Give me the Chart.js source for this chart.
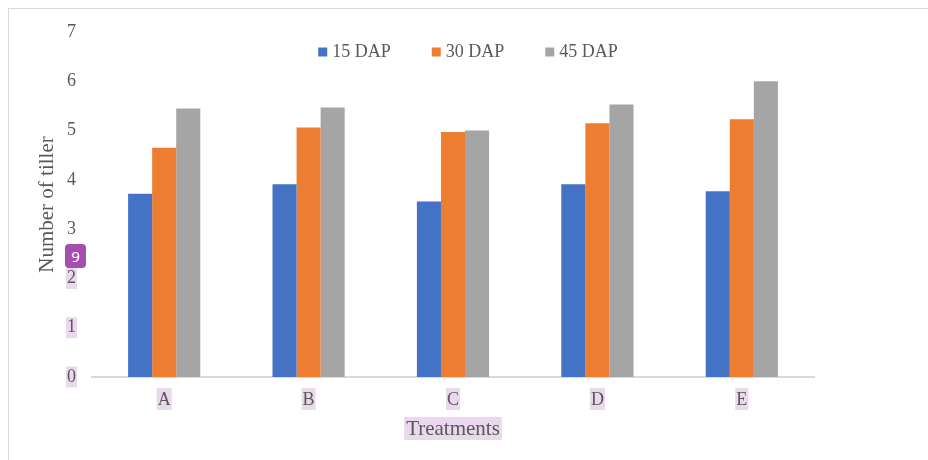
<!DOCTYPE html>
<html><head><meta charset="utf-8">
<script src="https://cdn.jsdelivr.net/npm/chart.js@4.4.0/dist/chart.umd.min.js"></script>
<style>
html,body{margin:0;padding:0;background:#fff;}
#wrap{position:relative;width:928px;height:460px;overflow:hidden;}
#frame{position:absolute;left:8px;top:8px;width:1000px;height:1000px;border-left:1px solid #d9d9d9;border-top:1px solid #d9d9d9;}
#badge{position:absolute;left:65px;top:244px;width:21px;height:24px;background:#a44fae;color:#fff;border-radius:4px;font:15px "Noto Sans",sans-serif;line-height:24px;text-align:center;}
canvas{position:absolute;left:0;top:0;}
</style></head>
<body><div id="wrap"><div id="frame"></div><canvas id="c" width="928" height="460"></canvas><div id="badge">9</div></div>
<script>
const categories = ['A', 'B', 'C', 'D', 'E'];
const seriesNames = ['15 DAP', '30 DAP', '45 DAP'];
const dap15 = [3.72, 3.91, 3.56, 3.91, 3.77];
const dap30 = [4.65, 5.06, 4.97, 5.15, 5.23];
const dap45 = [5.45, 5.47, 5.00, 5.53, 6.00];
const seriesColors = ['#4472C4', '#ED7D31', '#A5A5A5'];
const yTicks = [0, 1, 2, 3, 4, 5, 6, 7];
const highlightedYTicks = [0, 1, 2];
const xTitle = 'Treatments';
const yTitle = 'Number of tiller';

const FONT = '"Liberation Serif", "Times New Roman", serif';
const TXT = '#595959';
const HL = '#ead8ec';

const highlightPlugin = {
  id: 'highlights',
  beforeDraw(chart) {
    const ctx = chart.ctx, xs = chart.scales.x, ys = chart.scales.y;
    ctx.save();
    ctx.fillStyle = HL;
    ctx.font = '18px ' + FONT;
    const yRight = ys.right - 16;
    highlightedYTicks.forEach(v => {
      const py = ys.getPixelForValue(v);
      const w = ctx.measureText(String(v)).width;
      ctx.fillRect(yRight - w - 1, py - 10.5, w + 2, 21);
    });
    categories.forEach((c, i) => {
      const px = xs.getPixelForValue(i);
      const w = ctx.measureText(c).width;
      ctx.fillRect(px - w / 2 - 1, 388, w + 2, 22);
    });
    ctx.font = '21px ' + FONT;
    const tw = ctx.measureText(xTitle).width;
    const cx = (xs.left + xs.right) / 2;
    ctx.fillRect(cx - tw / 2 - 2, 417, tw + 4, 23);
    ctx.restore();
  }
};

const legendPlugin = {
  id: 'customLegend',
  afterDraw(chart) {
    const ctx = chart.ctx;
    ctx.save();
    ctx.font = '18px ' + FONT;
    const box = 9, gapText = 5, gapItem = 41;
    const widths = seriesNames.map(n => ctx.measureText(n).width);
    const total = widths.reduce((a, w) => a + box + gapText + w, 0) + gapItem * (seriesNames.length - 1);
    const area = chart.chartArea;
    let x = (area.left + area.right) / 2 + 15 - total / 2;
    const yc = 52;
    ctx.textBaseline = 'middle';
    ctx.textAlign = 'left';
    seriesNames.forEach((n, i) => {
      ctx.fillStyle = seriesColors[i];
      ctx.fillRect(x, yc - 4.5, box, box);
      ctx.fillStyle = TXT;
      ctx.fillText(n, x + box + gapText, yc);
      x += box + gapText + widths[i] + gapItem;
    });
    ctx.restore();
  }
};

new Chart(document.getElementById('c'), {
  type: 'bar',
  data: {
    labels: categories,
    datasets: [dap15, dap30, dap45].map((d, i) => ({
      label: seriesNames[i],
      data: d,
      backgroundColor: seriesColors[i],
      borderWidth: 0,
      categoryPercentage: 0.5,
      barPercentage: 1.0
    }))
  },
  options: {
    responsive: false,
    animation: false,
    devicePixelRatio: 1,
    layout: { padding: { left: 0, top: 32, right: 114, bottom: 0 } },
    plugins: { legend: { display: false }, tooltip: { enabled: false } },
    scales: {
      x: {
        grid: { display: false, drawTicks: false },
        border: { display: true, color: '#d9d9d9', width: 2 },
        ticks: { color: TXT, font: { family: FONT, size: 18 }, padding: 12 },
        title: { display: true, text: xTitle, color: TXT, font: { family: FONT, size: 21 }, padding: { top: 0, bottom: 18 } },
        afterFit(s) { s.height = 83; }
      },
      y: {
        min: 0, max: 7,
        grid: { display: false, drawTicks: false },
        border: { display: false },
        afterBuildTicks(s) { s.ticks = yTicks.map(v => ({ value: v })); },
        ticks: { color: TXT, font: { family: FONT, size: 18 }, padding: 16 },
        title: { display: true, text: yTitle, color: TXT, font: { family: FONT, size: 21 }, padding: { top: 35, bottom: 0 } },
        afterFit(s) { s.width = 92; }
      }
    }
  },
  plugins: [highlightPlugin, legendPlugin]
});
</script>
</body></html>
